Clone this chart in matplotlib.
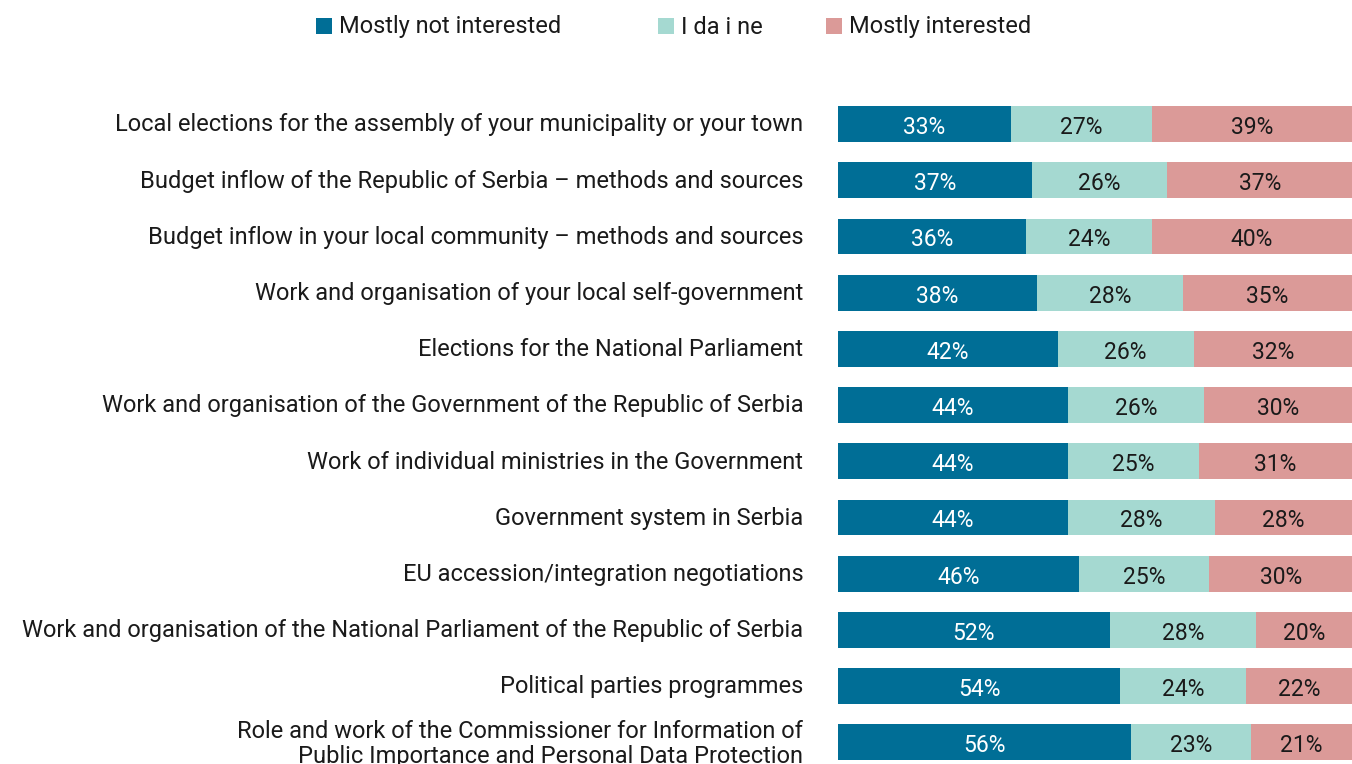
import numpy as np
import matplotlib.pyplot as plt
from matplotlib.patches import Rectangle

plt.rcParams['font.family'] = ['Roboto', 'DejaVu Sans']

teme = [
    'Local elections for the assembly of your municipality or your town',
    'Budget inflow of the Republic of Serbia \u2013 methods and sources',
    'Budget inflow in your local community \u2013 methods and sources',
    'Work and organisation of your local self-government',
    'Elections for the National Parliament',
    'Work and organisation of the Government of the Republic of Serbia',
    'Work of individual ministries in the Government',
    'Government system in Serbia',
    'EU accession/integration negotiations',
    'Work and organisation of the National Parliament of the Republic of Serbia',
    'Political parties programmes',
    'Role and work of the Commissioner for Information of\nPublic Importance and Personal Data Protection',
]
nije_zainteresovan = [33, 37, 36, 38, 42, 44, 44, 44, 46, 52, 54, 56]
i_da_i_ne = [27, 26, 24, 28, 26, 26, 25, 28, 25, 28, 24, 23]
zainteresovan = [39, 37, 40, 35, 32, 30, 31, 28, 30, 20, 22, 21]

serije = ['Mostly not interested', 'I da i ne', 'Mostly interested']
boje = ['#006E96', '#A5D9D1', '#DB9A98']
boje_teksta = ['white', '#1a1a1a', '#1a1a1a']

W, H = 1352, 764
fig = plt.figure(figsize=(W / 100, H / 100), dpi=100)

# osa pocinje na x=838 px, red 0 centriran na y=124 px, korak 56.2 px
x0, top_px, korak = 838, 96, 56.2
ax = fig.add_axes([x0 / W, 0, 1 - x0 / W, (H - top_px) / H])
xmax = (W - x0) / 523 * 100
ax.set_xlim(0, xmax)
n = len(teme)
ax.set_ylim(-0.5 + (H - top_px) / korak, -0.5)

y = np.arange(n)
podaci = [nije_zainteresovan, i_da_i_ne, zainteresovan]
levo = np.zeros(n)
for vals, boja, bt in zip(podaci, boje, boje_teksta):
    vals = np.array(vals, dtype=float)
    ax.barh(y, vals, left=levo, height=0.64, color=boja, linewidth=0)
    for yi, l, v in zip(y, levo, vals):
        xc = (l + min(l + v, xmax)) / 2
        ax.text(xc, yi + 0.06, f'{int(v)}%', ha='center', va='center',
                color=bt, fontsize=16.5)
    levo += vals

ax.set_yticks(y - 0.03)
ax.set_yticklabels(teme, fontsize=17, color='#1a1a1a', linespacing=1.12)
ax.tick_params(axis='y', length=0, pad=25)
ax.set_xticks([])
for s in ax.spines.values():
    s.set_visible(False)

# legenda iznad grafikona
leg_x = [316, 658, 826]
for lx, naziv, boja in zip(leg_x, serije, boje):
    fig.patches.append(Rectangle((lx / W, 1 - 34 / H), 16 / W, 16 / H,
                                 transform=fig.transFigure, color=boja,
                                 linewidth=0))
    fig.text((lx + 23) / W, 1 - 27 / H, naziv, ha='left', va='center',
             fontsize=17, color='#1a1a1a')

fig.savefig('out.png', dpi=100)
